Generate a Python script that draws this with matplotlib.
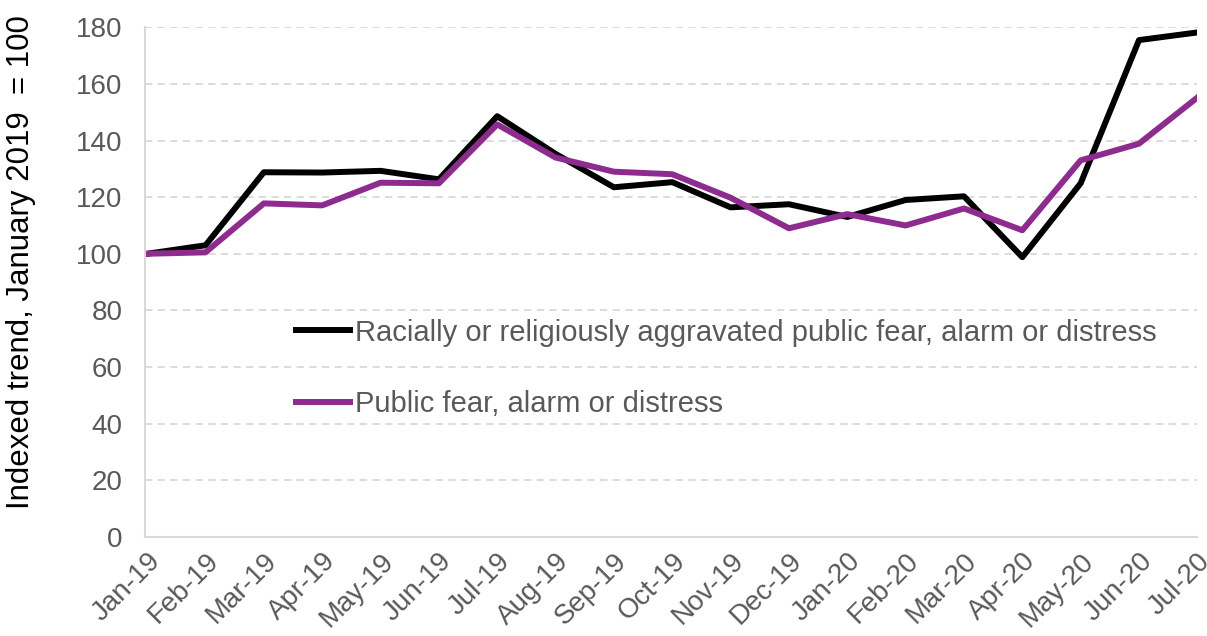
import matplotlib.pyplot as plt

plt.rcParams['font.family'] = ['Liberation Sans', 'DejaVu Sans']

months = ["Jan-19", "Feb-19", "Mar-19", "Apr-19", "May-19", "Jun-19", "Jul-19",
          "Aug-19", "Sep-19", "Oct-19", "Nov-19", "Dec-19", "Jan-20", "Feb-20",
          "Mar-20", "Apr-20", "May-20", "Jun-20", "Jul-20"]
racial = [100, 103, 128.8, 128.7, 129.3, 126.3, 148.6, 135.3, 123.5, 125.3, 116.4,
          117.5, 113, 119, 120.3, 98.8, 124.9, 175.5, 178.2]
public = [100, 100.5, 117.8, 117.1, 125.1, 124.9, 145.7, 134, 129, 128.1, 119.8,
          109, 114, 110, 116, 108.3, 133, 138.9, 155.2]
labels = ["Racially or religiously aggravated public fear, alarm or distress",
          "Public fear, alarm or distress"]

text_col = '#595959'
fig = plt.figure(figsize=(12.07, 6.36), dpi=100)
ax = fig.add_axes([0.120, 0.156, 0.872, 0.801])

x = range(len(months))
ax.plot(x, racial, color='black', lw=4.3, label=labels[0])
ax.plot(x, public, color='#8e2b8e', lw=4.3, label=labels[1])

ax.set_xlim(-0.04, len(months) - 1)
ax.set_ylim(0, 180)
ax.set_yticks(range(0, 181, 20))
ax.set_xticks(list(x))
ax.set_xticklabels(months, rotation=45, ha='right', rotation_mode='anchor')
ax.tick_params(axis='both', length=0, labelsize=20, colors=text_col)
ax.tick_params(axis='y', pad=16)
ax.tick_params(axis='x', pad=8)
ax.grid(axis='y', color='#d9d9d9', ls=(0, (4, 3)), lw=1.3)
ax.set_axisbelow(True)
for s in ['top', 'right']:
    ax.spines[s].set_visible(False)
for s in ['left', 'bottom']:
    ax.spines[s].set_color('#d9d9d9')
    ax.spines[s].set_linewidth(1.5)

ax.set_ylabel("Indexed trend, January 2019  = 100", fontsize=22.5, color='black')
ax.yaxis.set_label_coords(-0.103, 0.54)

leg = ax.legend(loc='upper left', bbox_to_anchor=(0.119, 0.48), frameon=False,
                fontsize=21, handlelength=1.85, handletextpad=0.15, labelspacing=1.5)
for t in leg.get_texts():
    t.set_color(text_col)

fig.savefig('out.png', dpi=100)
